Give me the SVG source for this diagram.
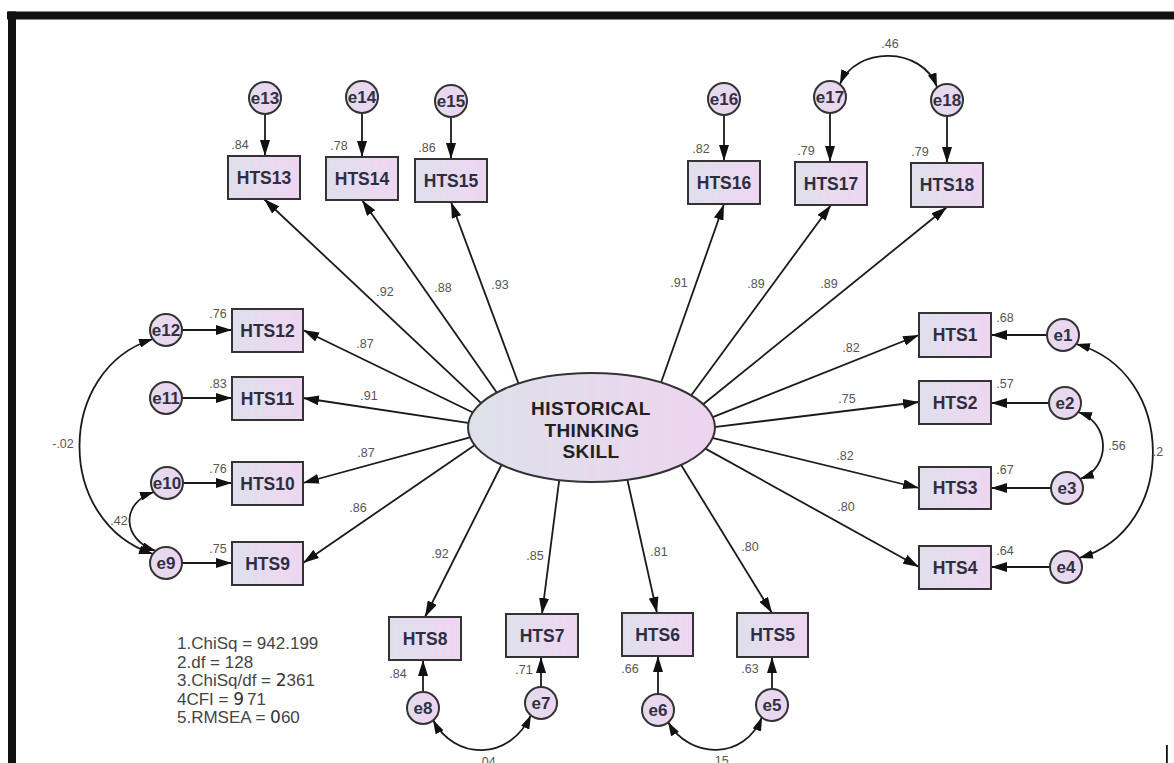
<svg xmlns="http://www.w3.org/2000/svg" width="1174" height="763" viewBox="0 0 1174 763">
<defs>
<style>
.bg{fill:#ffffff}
.frame{fill:#111111}
.box{fill:url(#gBox);stroke:#333333;stroke-width:2}
.err{fill:url(#gErr);stroke:#333333;stroke-width:2}
.lat{fill:url(#gLat);stroke:#333333;stroke-width:2}
.bt{font-family:"Liberation Sans",Arial,sans-serif;font-weight:bold;font-size:17.5px;fill:#2e2e42;text-anchor:middle}
.et{font-family:"Liberation Sans",Arial,sans-serif;font-weight:bold;font-size:17px;fill:#303040;text-anchor:middle}
.lt{font-family:"Liberation Sans",Arial,sans-serif;font-weight:bold;font-size:19px;letter-spacing:0.4px;fill:#222222;text-anchor:middle}
.num{font-family:"Liberation Sans",Arial,sans-serif;font-size:12.5px;fill:#555555;text-anchor:middle}
.stat{font-family:"Liberation Sans",Arial,sans-serif;font-size:17px;fill:#454545}
.alt{font-family:"DejaVu Sans",sans-serif;fill:#333333}
.path{stroke:#1a1a1a;stroke-width:1.8;fill:none;marker-end:url(#ah)}
.cov{stroke:#1a1a1a;stroke-width:1.8;fill:none;marker-start:url(#ah2);marker-end:url(#ah2)}
</style>
<linearGradient id="gBox" x1="0" y1="0" x2="1" y2="0">
<stop offset="0" stop-color="#dfe0ec"/>
<stop offset="1" stop-color="#efd6f1"/>
</linearGradient>
<linearGradient id="gErr" x1="0" y1="0" x2="1" y2="0">
<stop offset="0" stop-color="#e3dcee"/>
<stop offset="1" stop-color="#edd4f0"/>
</linearGradient>
<linearGradient id="gLat" x1="0" y1="0" x2="1" y2="0">
<stop offset="0" stop-color="#dde1ea"/>
<stop offset="1" stop-color="#eed4ef"/>
</linearGradient>
<marker id="ah" viewBox="0 0 16 10" refX="16" refY="5" markerWidth="16" markerHeight="10" markerUnits="userSpaceOnUse" orient="auto-start-reverse">
<path d="M0,0 L16,5 L0,10 z" fill="#111111"/>
</marker>
<marker id="ah2" viewBox="0 0 14 9" refX="14" refY="4.5" markerWidth="14" markerHeight="9" markerUnits="userSpaceOnUse" orient="auto-start-reverse">
<path d="M0,0 L14,4.5 L0,9 z" fill="#111111"/>
</marker>
</defs>
<rect class="bg" x="0" y="0" width="1174" height="763"/>
<g id="frame">
<rect class="frame" x="7" y="11.5" width="1167" height="8"/>
<rect class="frame" x="8" y="11.5" width="8" height="752"/>
<rect class="frame" x="1166" y="745" width="1.8" height="18"/>
</g>

<g id="connectors">
<line class="path" x1="483.6" y1="405.4" x2="264" y2="199"/>
<line class="path" x1="499.9" y1="397.1" x2="362" y2="200"/>
<line class="path" x1="519.7" y1="386.7" x2="451" y2="202"/>
<line class="path" x1="660.3" y1="384.7" x2="724" y2="204"/>
<line class="path" x1="690" y1="397" x2="831" y2="205"/>
<line class="path" x1="701" y1="406" x2="947" y2="207"/>
<line class="path" x1="708.4" y1="418.8" x2="919" y2="335"/>
<line class="path" x1="710" y1="427.6" x2="919" y2="402"/>
<line class="path" x1="708" y1="436.8" x2="919" y2="488"/>
<line class="path" x1="703.6" y1="447.6" x2="919" y2="567"/>
<line class="path" x1="680.4" y1="463.7" x2="772" y2="613"/>
<line class="path" x1="627" y1="478" x2="657" y2="613"/>
<line class="path" x1="559.6" y1="477" x2="542" y2="614"/>
<line class="path" x1="502.2" y1="463.5" x2="425" y2="617"/>
<line class="path" x1="476" y1="444.2" x2="303" y2="563"/>
<line class="path" x1="472.8" y1="436.7" x2="303" y2="483"/>
<line class="path" x1="473" y1="423.7" x2="303" y2="398"/>
<line class="path" x1="476.5" y1="414.2" x2="303" y2="330"/>
<line class="path" x1="265" y1="114" x2="265" y2="156"/>
<line class="path" x1="362" y1="113" x2="362" y2="157"/>
<line class="path" x1="451" y1="117" x2="451" y2="159"/>
<line class="path" x1="724" y1="115" x2="724" y2="161"/>
<line class="path" x1="830" y1="113" x2="830" y2="162"/>
<line class="path" x1="947" y1="116" x2="947" y2="163"/>
<line class="path" x1="182" y1="330" x2="232" y2="330"/>
<line class="path" x1="182" y1="398" x2="232" y2="398"/>
<line class="path" x1="183" y1="483" x2="232" y2="483"/>
<line class="path" x1="182" y1="563" x2="232" y2="563"/>
<line class="path" x1="1047" y1="335" x2="991" y2="335"/>
<line class="path" x1="1049" y1="403" x2="991" y2="403"/>
<line class="path" x1="1051" y1="488" x2="991" y2="488"/>
<line class="path" x1="1050" y1="567" x2="991" y2="567"/>
<line class="path" x1="423" y1="692" x2="423" y2="660"/>
<line class="path" x1="541" y1="687" x2="541" y2="657"/>
<line class="path" x1="658" y1="694" x2="658" y2="656"/>
<line class="path" x1="772" y1="689" x2="772" y2="657"/>
<path class="cov" d="M840,84 C856,46 922,46 937,87"/>
<path class="cov" d="M153,339 C55,370 55,522 153,554"/>
<path class="cov" d="M154,492 C120,503 122,540 156,551"/>
<path class="cov" d="M1076,344 C1178,372 1178,530 1079,558"/>
<path class="cov" d="M1078,412 C1111,423 1111,468 1080,479"/>
<path class="cov" d="M433,720 C455,761 510,761 531,715"/>
<path class="cov" d="M668,722 C690,760 745,760 762,717"/>
</g>

<g id="path-labels">
<text class="num" x="385" y="295.5">.92</text>
<text class="num" x="443" y="291.5">.88</text>
<text class="num" x="500" y="288.5">.93</text>
<text class="num" x="679" y="286.5">.91</text>
<text class="num" x="756" y="287.5">.89</text>
<text class="num" x="829" y="287.5">.89</text>
<text class="num" x="365" y="347.5">.87</text>
<text class="num" x="369" y="399.5">.91</text>
<text class="num" x="366" y="456.5">.87</text>
<text class="num" x="358" y="511.5">.86</text>
<text class="num" x="851" y="351.5">.82</text>
<text class="num" x="847" y="402.5">.75</text>
<text class="num" x="845" y="459.5">.82</text>
<text class="num" x="846" y="510.5">.80</text>
<text class="num" x="440" y="557.5">.92</text>
<text class="num" x="535" y="559.5">.85</text>
<text class="num" x="659" y="555.5">.81</text>
<text class="num" x="750" y="550.5">.80</text>
<text class="num" x="890" y="47.5">.46</text>
<text class="num" x="63" y="447.5">-.02</text>
<text class="num" x="119" y="524.5">.42</text>
<text class="num" x="1117" y="449.5">.56</text>
<text class="num" x="1158" y="455.5" text-anchor="start">.2</text>
<text class="num" x="487" y="766">.04</text>
<text class="num" x="720" y="765">.15</text>
</g>

<g id="HISTORICAL_THINKING_SKILL">
<ellipse class="lat" cx="591.5" cy="427.5" rx="123.5" ry="54.5"/>
<text class="lt" x="591" y="415">HISTORICAL</text>
<text class="lt" x="592" y="436.5">THINKING</text>
<text class="lt" x="591" y="457.5">SKILL</text>
</g>

<g id="HTS13"><rect class="box" x="228" y="156" width="72" height="43"/><text class="bt" x="264" y="183.5">HTS13</text><text class="num" x="240" y="148.5">.84</text></g>
<g id="HTS14"><rect class="box" x="326" y="157" width="72" height="43"/><text class="bt" x="362" y="184.5">HTS14</text><text class="num" x="339" y="149.5">.78</text></g>
<g id="HTS15"><rect class="box" x="415" y="159" width="72" height="43"/><text class="bt" x="451" y="186.5">HTS15</text><text class="num" x="427" y="151.5">.86</text></g>
<g id="HTS16"><rect class="box" x="688" y="161" width="72" height="43"/><text class="bt" x="724" y="188.5">HTS16</text><text class="num" x="701" y="152.5">.82</text></g>
<g id="HTS17"><rect class="box" x="795" y="162" width="72" height="43"/><text class="bt" x="831" y="189.5">HTS17</text><text class="num" x="806" y="154.5">.79</text></g>
<g id="HTS18"><rect class="box" x="911" y="163" width="72" height="44"/><text class="bt" x="947" y="191">HTS18</text><text class="num" x="920" y="155.5">.79</text></g>
<g id="HTS12"><rect class="box" x="232" y="309" width="71" height="43"/><text class="bt" x="267.5" y="336.5">HTS12</text><text class="num" x="218" y="317.5">.76</text></g>
<g id="HTS11"><rect class="box" x="232" y="377" width="71" height="43"/><text class="bt" x="267.5" y="404.5">HTS11</text><text class="num" x="218" y="387.5">.83</text></g>
<g id="HTS10"><rect class="box" x="232" y="462" width="71" height="43"/><text class="bt" x="267.5" y="489.5">HTS10</text><text class="num" x="218" y="472.5">.76</text></g>
<g id="HTS9"><rect class="box" x="232" y="542" width="71" height="43"/><text class="bt" x="267.5" y="569.5">HTS9</text><text class="num" x="218" y="552.5">.75</text></g>
<g id="HTS1"><rect class="box" x="919" y="313" width="72" height="44"/><text class="bt" x="955" y="341">HTS1</text><text class="num" x="1005" y="321.5">.68</text></g>
<g id="HTS2"><rect class="box" x="919" y="381" width="72" height="43"/><text class="bt" x="955" y="408.5">HTS2</text><text class="num" x="1005" y="387.5">.57</text></g>
<g id="HTS3"><rect class="box" x="919" y="467" width="72" height="42"/><text class="bt" x="955" y="494">HTS3</text><text class="num" x="1005" y="473.5">.67</text></g>
<g id="HTS4"><rect class="box" x="919" y="546" width="72" height="43"/><text class="bt" x="955" y="573.5">HTS4</text><text class="num" x="1005" y="554.5">.64</text></g>
<g id="HTS8"><rect class="box" x="389" y="617" width="72" height="43"/><text class="bt" x="425" y="644.5">HTS8</text><text class="num" x="398" y="677.5">.84</text></g>
<g id="HTS7"><rect class="box" x="506" y="614" width="72" height="43"/><text class="bt" x="542" y="641.5">HTS7</text><text class="num" x="524" y="673.5">.71</text></g>
<g id="HTS6"><rect class="box" x="622" y="613" width="71" height="43"/><text class="bt" x="657.5" y="640.5">HTS6</text><text class="num" x="630" y="672.5">.66</text></g>
<g id="HTS5"><rect class="box" x="737" y="613" width="71" height="44"/><text class="bt" x="772.5" y="641">HTS5</text><text class="num" x="750" y="672.5">.63</text></g>

<g id="e13"><circle class="err" cx="265" cy="98" r="16"/><text class="et" x="265" y="104">e13</text></g>
<g id="e14"><circle class="err" cx="362" cy="97" r="16"/><text class="et" x="362" y="103">e14</text></g>
<g id="e15"><circle class="err" cx="451" cy="101" r="16"/><text class="et" x="451" y="107">e15</text></g>
<g id="e16"><circle class="err" cx="724" cy="99" r="16"/><text class="et" x="724" y="105">e16</text></g>
<g id="e17"><circle class="err" cx="830" cy="97" r="16"/><text class="et" x="830" y="103">e17</text></g>
<g id="e18"><circle class="err" cx="947" cy="100" r="16"/><text class="et" x="947" y="106">e18</text></g>
<g id="e12"><circle class="err" cx="166" cy="330" r="16"/><text class="et" x="166" y="336">e12</text></g>
<g id="e11"><circle class="err" cx="166" cy="398" r="16"/><text class="et" x="166" y="404">e11</text></g>
<g id="e10"><circle class="err" cx="167" cy="483" r="16"/><text class="et" x="167" y="489">e10</text></g>
<g id="e9"><circle class="err" cx="166" cy="563" r="16"/><text class="et" x="166" y="569">e9</text></g>
<g id="e1"><circle class="err" cx="1063" cy="335" r="16"/><text class="et" x="1063" y="341">e1</text></g>
<g id="e2"><circle class="err" cx="1065" cy="403" r="16"/><text class="et" x="1065" y="409">e2</text></g>
<g id="e3"><circle class="err" cx="1067" cy="488" r="16"/><text class="et" x="1067" y="494">e3</text></g>
<g id="e4"><circle class="err" cx="1066" cy="567" r="16"/><text class="et" x="1066" y="573">e4</text></g>
<g id="e8"><circle class="err" cx="423" cy="708" r="16"/><text class="et" x="423" y="714">e8</text></g>
<g id="e7"><circle class="err" cx="541" cy="703" r="16"/><text class="et" x="541" y="709">e7</text></g>
<g id="e6"><circle class="err" cx="658" cy="710" r="16"/><text class="et" x="658" y="716">e6</text></g>
<g id="e5"><circle class="err" cx="772" cy="705" r="16"/><text class="et" x="772" y="711">e5</text></g>

<g id="fit-statistics">
<text class="stat" x="177" y="649">1.ChiSq = 942.199</text>
<text class="stat" x="177" y="667.5">2.df = 128</text>
<text class="stat" x="177" y="686">3.ChiSq/df = <tspan class="alt">2</tspan>361</text>
<text class="stat" x="177" y="704.5">4CFI = <tspan class="alt">9</tspan><tspan dx="3">71</tspan></text>
<text class="stat" x="177" y="723">5.RMSEA = <tspan class="alt">0</tspan>60</text>
</g>
</svg>
